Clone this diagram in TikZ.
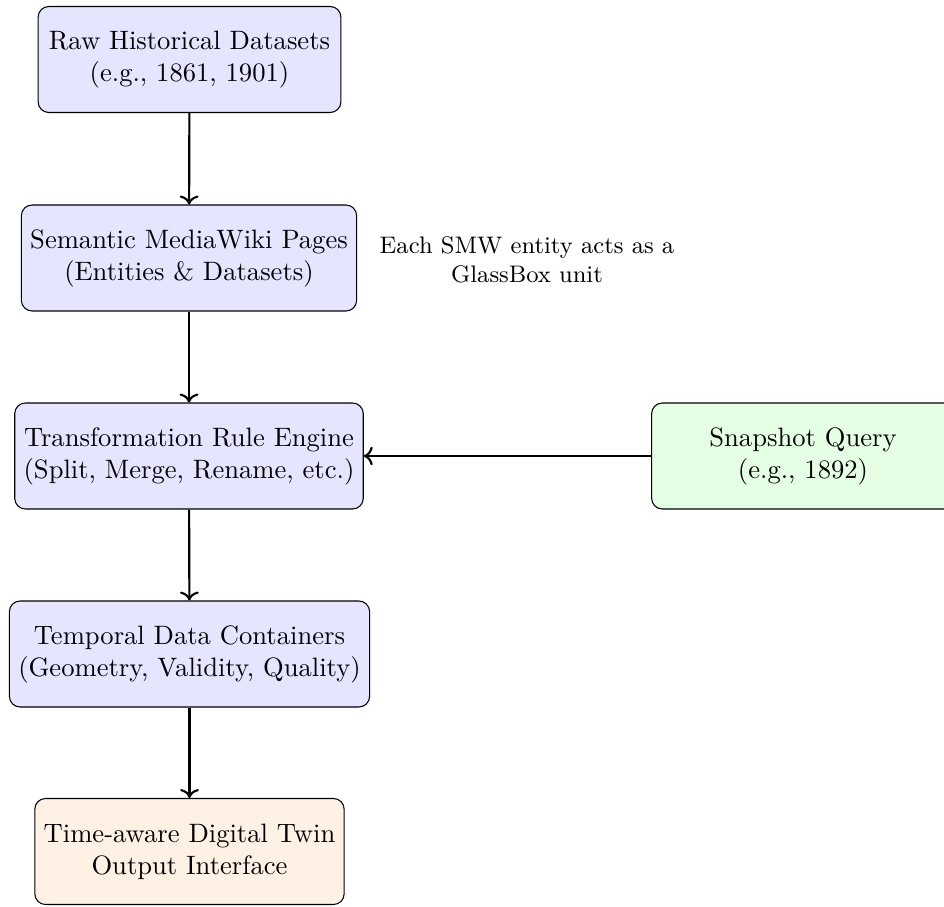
\documentclass[tikz,border=0pt]{standalone}
\usetikzlibrary{arrows.meta}
\tikzset{
  stage/.style={draw, rounded corners, align=center, minimum width=4cm,
    minimum height=1.4cm, fill=blue!10},
  query/.style={stage, fill=green!10},
  output/.style={stage, fill=orange!10},
  flow/.style={thick, ->},
  remark/.style={align=center, font=\small}
}
\begin{document}
\begin{tikzpicture}[x=0.3759pt, y=-0.3759pt]
  \useasboundingbox (0,0) rectangle (944,906);
  \node[stage]  (raw)   at (189.5,59.5) {Raw Historical Datasets\\(e.g., 1861, 1901)};
  \node[stage]  (smw)   at (189,258)    {Semantic MediaWiki Pages\\(Entities \& Datasets)};
  \node[stage]  (rules) at (189,456)    {Transformation Rule Engine\\(Split, Merge, Rename, etc.)};
  \node[stage]  (temp)  at (189.5,654)  {Temporal Data Containers\\(Geometry, Validity, Quality)};
  \node[output] (twin)  at (189.5,851.5){Time-aware Digital Twin\\Output Interface};
  \node[query]  (snap)  at (803,456)    {Snapshot Query\\(e.g., 1892)};
  \node[remark] (note)  at (527,260)    {Each SMW entity acts as a\\GlassBox unit};

  \draw[flow] (raw) -- (smw);
  \draw[flow] (smw) -- (rules);
  \draw[flow] (rules) -- (temp);
  \draw[flow] (temp) -- (twin);
  \draw[flow] (snap) -- (rules);
\end{tikzpicture}
\end{document}
